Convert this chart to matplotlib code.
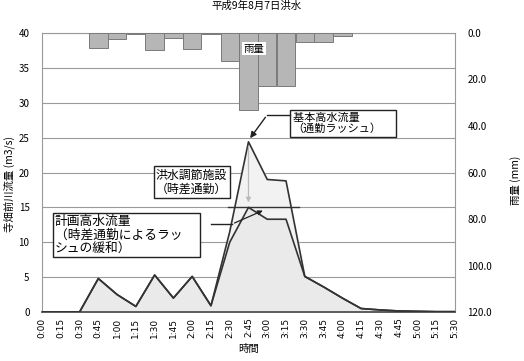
import matplotlib.pyplot as plt
import numpy as np

plt.rcParams['font.family'] = ['Noto Sans CJK JP', 'DejaVu Sans']

times = ['0:00', '0:15', '0:30', '0:45', '1:00', '1:15', '1:30', '1:45',
         '2:00', '2:15', '2:30', '2:45', '3:00', '3:15', '3:30', '3:45',
         '4:00', '4:15', '4:30', '4:45', '5:00', '5:15', '5:30']
# 基本高水流量 (通勤ラッシュ)
basic = [0, 0, 0, 4.8, 2.5, 0.8, 5.3, 2.0, 5.1, 0.9, 11.5, 24.4, 19.0, 18.8,
         5.1, 3.6, 2.0, 0.5, 0.3, 0.15, 0.1, 0.05, 0.05]
# 計画高水流量 (時差通勤)
plan = [0, 0, 0, 4.8, 2.5, 0.8, 5.3, 2.0, 5.1, 0.9, 10.0, 15.0, 13.3, 13.3,
        5.1, 3.6, 2.0, 0.5, 0.3, 0.15, 0.1, 0.05, 0.05]
# 雨量 (mm), 0:45 - 4:00
rain_times = ['0:45', '1:00', '1:15', '1:30', '1:45', '2:00', '2:15', '2:30',
              '2:45', '3:00', '3:15', '3:30', '3:45', '4:00']
rain = [6.5, 2.5, 0.6, 7.5, 2.0, 7.0, 0.6, 12.0, 33.0, 23.0, 23.0, 4.0, 4.0, 1.5]
plan_level = 15

x = np.arange(len(times))
rx = [times.index(t) for t in rain_times]

fig = plt.figure(figsize=(5.24, 3.61), dpi=100)
ax = fig.add_axes([0.0802, 0.1357, 0.788, 0.7729])
ax2 = ax.twinx()

ax.fill_between(x, 0, basic, color='#f2f2f2', zorder=1)
ax.fill_between(x, 0, plan, color='#eaeaea', zorder=1)
ax.plot(x, basic, color='#333333', lw=1.2, zorder=3)
ax.plot(x, plan, color='#333333', lw=1.2, zorder=3)

ax.set_xlim(0, 22)
ax.set_ylim(0, 40)
ax.set_yticks(range(0, 41, 5))
ax.set_xticks(x)
ax.set_xticklabels(times, rotation=90, fontsize=6.5, family='DejaVu Sans')
ax.tick_params(axis='y', labelsize=7, length=0, pad=9)
ax.tick_params(axis='x', length=0, pad=4)
ax.yaxis.grid(True, color='#9a9a9a', lw=0.8)
ax.set_axisbelow(True)
for s in ['left', 'top', 'right']:
    ax.spines[s].set_color('#999999')
    ax.spines[s].set_linewidth(0.8)
ax.spines['bottom'].set_color('#444444')
ax.spines['bottom'].set_linewidth(1.2)

# rain bars hanging from the top
ax2.bar(rx, rain, width=0.98, color='#b6b6b6', edgecolor='#7a7a7a', lw=0.7, zorder=2)
ax2.set_ylim(120, 0)
ax2.set_yticks(range(0, 121, 20))
ax2.set_yticklabels(['%.1f' % v for v in range(0, 121, 20)])
ax2.tick_params(axis='y', labelsize=7, length=0, pad=9)
for s in ax2.spines.values():
    s.set_visible(False)
ax2.text(0.513, 0.943, '雨量', transform=ax2.transAxes, ha='center', va='center',
         fontsize=7.5, bbox=dict(boxstyle='square,pad=0.15', fc='white', ec='none'))

# level line and annotations
ax.plot([9.9, 13.7], [plan_level, plan_level], color='#333333', lw=1.0, zorder=4)
pk = int(np.argmax(basic))
ax.annotate('', xy=(pk, plan[pk] + 0.3), xytext=(pk, basic[pk] - 0.3),
            arrowprops=dict(arrowstyle='-|>', color='#bbbbbb', lw=0.9,
                            mutation_scale=7), zorder=5)

ax.text(0.607, 0.677, '基本高水流量　　　\n（通勤ラッシュ）', transform=ax.transAxes,
        ha='left', va='center', fontsize=8, linespacing=1.1, zorder=6,
        bbox=dict(boxstyle='square,pad=0.25', fc='white', ec='#222222', lw=1.0))
ax.plot([0.601, 0.545], [0.706, 0.706], transform=ax.transAxes,
        color='#222222', lw=1.0, zorder=6)
ax.annotate('', xy=(pk, basic[pk] + 0.2), xytext=(0.545, 0.706),
            textcoords='axes fraction',
            arrowprops=dict(arrowstyle='-|>', color='#222222', lw=1.0,
                            mutation_scale=9), zorder=6)

ax.text(0.276, 0.466, '洪水調節施設\n（時差通勤）', transform=ax.transAxes,
        ha='left', va='center', fontsize=8.6, linespacing=1.1, zorder=6,
        bbox=dict(boxstyle='square,pad=0.2', fc='white', ec='#222222', lw=1.0))

ax.text(0.031, 0.276, '計画高水流量\n（時差通勤によるラッ　 \nシュの緩和）',
        transform=ax.transAxes, ha='left', va='center', fontsize=9.2,
        linespacing=1.05, zorder=6,
        bbox=dict(boxstyle='square,pad=0.15', fc='white', ec='#222222', lw=1.0))
ax.plot([0.41, 0.46], [0.315, 0.315], transform=ax.transAxes,
        color='#222222', lw=1.0, zorder=6)
ax.annotate('', xy=(11.9, plan_level - 0.3), xytext=(0.46, 0.315),
            textcoords='axes fraction',
            arrowprops=dict(arrowstyle='-|>', color='#222222', lw=0.9,
                            mutation_scale=7), zorder=6)

fig.text(0.489, 0.983, '平成9年8月7日洪水', ha='center', va='center', fontsize=7.5)
fig.text(0.474, 0.033, '時間', ha='center', va='center', fontsize=7.5)
fig.text(0.017, 0.49, '寺畑前川流量 (m3/s)', ha='center', va='center',
         rotation=90, fontsize=7.5)
fig.text(0.983, 0.50, '雨量 (mm)', ha='center', va='center', rotation=90,
         fontsize=7.5)

fig.savefig('out.png', dpi=100)
